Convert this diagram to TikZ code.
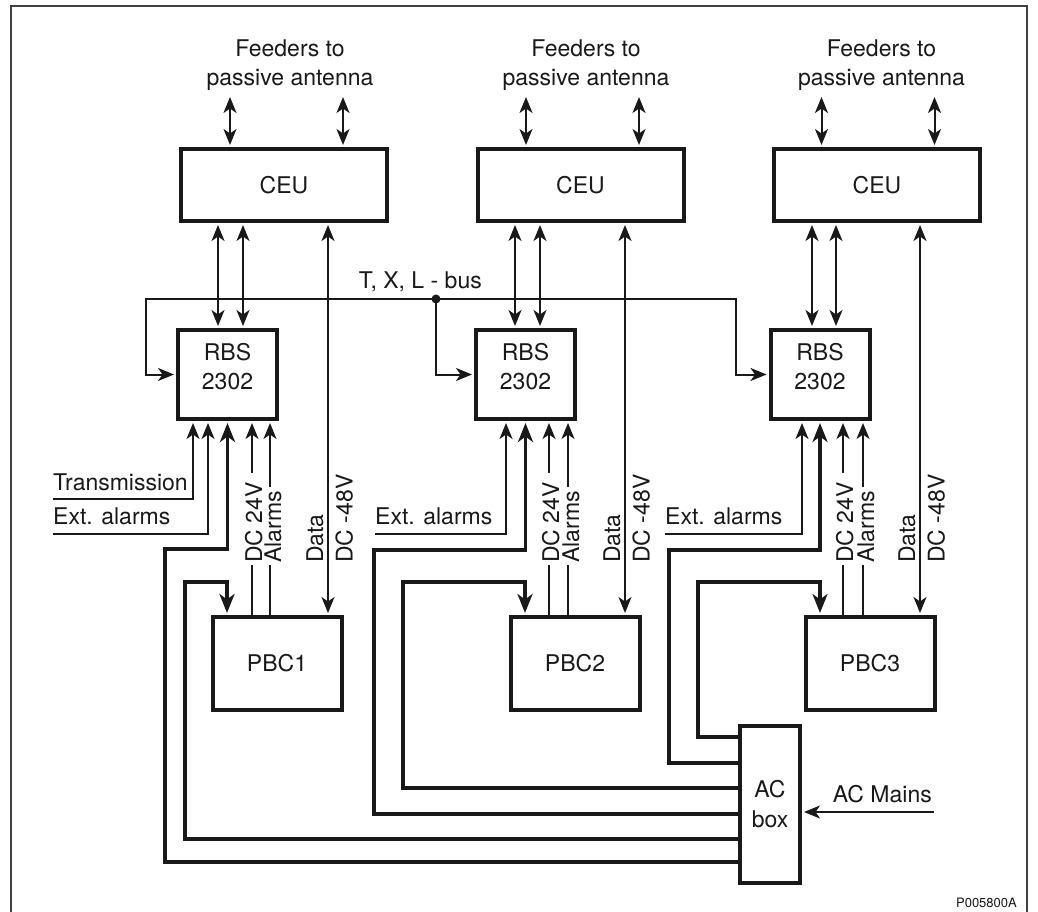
\documentclass[tikz,border=0pt]{standalone}
\usepackage{fontspec}
\setmainfont{TeX Gyre Heros}
\usetikzlibrary{arrows.meta}
\begin{document}
\begin{tikzpicture}[x=1pt,y=-1pt,
  every node/.style={font=\fontsize{23}{29}\selectfont, inner sep=0pt, text=black!90},
  box/.style={draw=black!90, line width=4pt, align=center},
  ceubox/.style={box, minimum width=206pt, minimum height=72pt},
  rbsbox/.style={box, minimum width=99pt, minimum height=89pt},
  pbcbox/.style={box, minimum width=129pt, minimum height=93pt},
  thin/.style={draw=black!90, line width=2pt, >={Stealth[length=16pt,width=13pt,inset=4.5pt]}},
  pwr/.style={draw=black!90, line width=3.5pt, >={Stealth[length=19pt,width=15pt,inset=5.5pt]}},
  into/.style={shorten >=2pt},
  both/.style={shorten >=2pt, shorten <=2pt},
  rot/.style={rotate=90, anchor=base west},
  lbl/.style={anchor=base west},
  frame/.style={draw=black!75, line width=1.5pt}
]
\useasboundingbox (0,0) rectangle (1038,912);
\draw[frame] (11,912) -- (11,6) -- (1027,6) -- (1027,912);

% CEU boxes
\node[ceubox] (ceu1) at (284,185) {CEU};
\node[ceubox] (ceu2) at (580.5,185) {CEU};
\node[ceubox] (ceu3) at (877,185) {CEU};

% RBS boxes
\node[rbsbox] (rbs1) at (227.5,374.5) {RBS\\2302\\[-12pt]};
\node[rbsbox] (rbs2) at (525.5,374.5) {RBS\\2302\\[-12pt]};
\node[rbsbox] (rbs3) at (820,374.5) {RBS\\2302\\[-12pt]};

% PBC boxes
\node[pbcbox] (pbc1) at (277,663.5) {PBC1};
\node[pbcbox] (pbc2) at (575,663.5) {PBC2};
\node[pbcbox] (pbc3) at (870,663.5) {PBC3};

% AC box
\node[box, minimum width=60pt, minimum height=157pt, font=\fontsize{23}{30}\selectfont] (acbox) at (770,804.5) {AC\\box};

% Feeders
\node[align=center] (feed1) at (290,65.5) {Feeders to\\passive antenna};
\node[align=center] (feed2) at (586,65.5) {Feeders to\\passive antenna};
\node[align=center] (feed3) at (881.5,65.5) {Feeders to\\passive antenna};
\coordinate (f1a) at (230,97);   \coordinate (f1b) at (343,97);
\coordinate (f2a) at (526,97);   \coordinate (f2b) at (639,97);
\coordinate (f3a) at (821.5,97); \coordinate (f3b) at (934.5,97);
\foreach \f/\c in {f1a/ceu1,f1b/ceu1,f2a/ceu2,f2b/ceu2,f3a/ceu3,f3b/ceu3}
  \draw[thin,<->,into] (\f) -- (\f |- \c.north);

% CEU <-> RBS
\foreach \x/\c/\r in {218/ceu1/rbs1,243/ceu1/rbs1,515/ceu2/rbs2,540/ceu2/rbs2,812/ceu3/rbs3,836/ceu3/rbs3}
  \draw[thin,<->,both] (\x,0 |- \c.south) -- (\x,0 |- \r.north);

% Data / DC -48V lines CEU <-> PBC
\foreach \x/\c/\p in {328/ceu1/pbc1,625/ceu2/pbc2,920/ceu3/pbc3}
  \draw[thin,<->,both] (\x,0 |- \c.south) -- (\x,0 |- \p.north);

% Bus
\coordinate (bus) at (436,299);
\draw[thin,<->,both] (rbs1.west) -| (146,299) -- (736,299) |- (rbs3.west);
\draw[thin,->,into] (bus) |- (rbs2.west);
\fill[black!90] (bus) circle (4.5pt);
\node[anchor=base east] (buslbl) at (482,288) {T, X, L - bus};

% Transmission / Ext. alarms
\node[lbl] (trans1) at (53,490) {Transmission};
\coordinate (t1) at (53,499);
\draw[thin,->,into] (t1) -| (193,0 |- rbs1.south);
\node[lbl] (ext1) at (53,524) {Ext. alarms};
\coordinate (e1) at (53,534);
\draw[thin,->,into] (e1) -| (208,0 |- rbs1.south);
\node[lbl] (ext2) at (375,524) {Ext. alarms};
\coordinate (e2) at (375,534);
\draw[thin,->,into] (e2) -| (506,0 |- rbs2.south);
\node[lbl] (ext3) at (665,524) {Ext. alarms};
\coordinate (e3) at (665,534);
\draw[thin,->,into] (e3) -| (802,0 |- rbs3.south);

% DC 24V / Alarms lines PBC -> RBS (broken by labels)
\foreach \x/\p/\r/\t in {252/pbc1/rbs1/473,270/pbc1/rbs1/487,549/pbc2/rbs2/473,568/pbc2/rbs2/487,843/pbc3/rbs3/473,863/pbc3/rbs3/487}{
  \draw[thin] (\x,0 |- \p.north) -- (\x,565);
  \draw[thin,->,into] (\x,\t) -- (\x,0 |- \r.south);
}

% rotated labels
\node[rot] (dc1) at (262,563) {DC 24V};
\node[rot] (al1) at (281,563) {Alarms};
\node[rot] (da1) at (323,563) {Data};
\node[rot] (dm1) at (352.5,563) {DC -48V};
\node[rot] (dc2) at (559,563) {DC 24V};
\node[rot] (al2) at (579,563) {Alarms};
\node[rot] (da2) at (620,563) {Data};
\node[rot] (dm2) at (649.5,563) {DC -48V};
\node[rot] (dc3) at (853,563) {DC 24V};
\node[rot] (al3) at (874,563) {Alarms};
\node[rot] (da3) at (915,563) {Data};
\node[rot] (dm3) at (944.5,563) {DC -48V};

% AC power feeds
\draw[pwr,->,into] (acbox.west |- 0,862) -- (165,862) -- (165,549) -- (227.5,549) -- (rbs1.south);
\draw[pwr,->,into] (acbox.west |- 0,839) -- (185,839) -- (185,582) -- (227,582) -- (227,0 |- pbc1.north);
\draw[pwr,->,into] (acbox.west |- 0,814) -- (374,814) -- (374,550) -- (525.5,550) -- (rbs2.south);
\draw[pwr,->,into] (acbox.west |- 0,788) -- (403,788) -- (403,582) -- (525,582) -- (525,0 |- pbc2.north);
\draw[pwr,->,into] (acbox.west |- 0,763) -- (669,763) -- (669,550) -- (820,550) -- (rbs3.south);
\draw[pwr,->,into] (acbox.west |- 0,737) -- (698,737) -- (698,582) -- (820,582) -- (820,0 |- pbc3.north);

% AC Mains
\coordinate (acm) at (934,812);
\draw[thin,->,into] (acm) -- (acm -| acbox.east);
\node[anchor=base east] (acmlbl) at (932,802) {AC Mains};

% figure code
\node[anchor=base east, font=\fontsize{13}{15}\selectfont] (code) at (1017,907) {P005800A};
\end{tikzpicture}
\end{document}
